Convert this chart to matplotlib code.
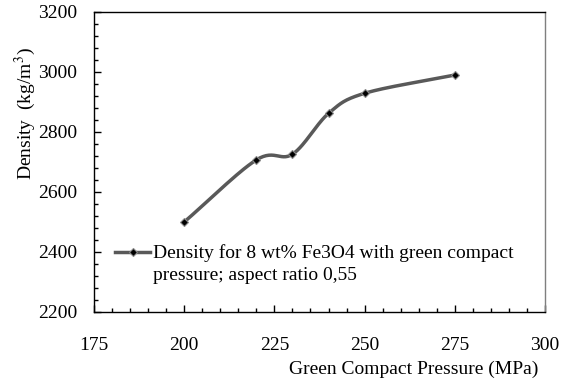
import numpy as np
import matplotlib
matplotlib.use("Agg")
import matplotlib.pyplot as plt
from matplotlib.lines import Line2D
from matplotlib.ticker import MultipleLocator

plt.rcParams["font.family"] = ["Liberation Serif", "DejaVu Serif"]
plt.rcParams["mathtext.fontset"] = "stix"

# Data
pressure = [200, 220, 230, 240, 250, 275]
density = [2500, 2707, 2726, 2862, 2929, 2990]
label_line1 = "Density for 8 wt% Fe3O4 with green compact"
label_line2 = "pressure; aspect ratio 0,55"

XMIN, XMAX = 175, 300
YMIN, YMAX = 2200, 3200


def smooth(xs, ys, n=30):
    # Catmull-Rom spline (Excel-like smoothed line), in normalised space
    px = (np.asarray(xs, float) - XMIN) / (XMAX - XMIN)
    py = (np.asarray(ys, float) - YMIN) / (YMAX - YMIN) * (300 / 451)
    P = np.column_stack([px, py])
    P = np.vstack([2 * P[0] - P[1], P, 2 * P[-1] - P[-2]])
    out = []
    t = np.linspace(0, 1, n)[:, None]
    for i in range(1, len(P) - 2):
        p0, p1, p2, p3 = P[i - 1], P[i], P[i + 1], P[i + 2]
        seg = 0.5 * ((2 * p1) + (-p0 + p2) * t
                     + (2 * p0 - 5 * p1 + 4 * p2 - p3) * t ** 2
                     + (-p0 + 3 * p1 - 3 * p2 + p3) * t ** 3)
        out.append(seg if i == len(P) - 3 else seg[:-1])
    out = np.vstack(out)
    sx = out[:, 0] * (XMAX - XMIN) + XMIN
    sy = out[:, 1] / (300 / 451) * (YMAX - YMIN) + YMIN
    return sx, sy


fig = plt.figure(figsize=(5.62, 3.80), dpi=100)
ax = fig.add_axes([94 / 562, 1 - 312 / 380, 451 / 562, 300 / 380])

sx, sy = smooth(pressure, density)
line_color = "#595959"
ax.plot(sx, sy, color=line_color, lw=2.5, solid_capstyle="round", zorder=2)
ax.plot(pressure, density, ls="none", marker="D", ms=4, mfc="black",
        mec="#8c8c8c", mew=0.8, zorder=3)

ax.set_xlim(XMIN, XMAX)
ax.set_ylim(YMIN, YMAX)
ax.xaxis.set_major_locator(MultipleLocator(25))
ax.xaxis.set_minor_locator(MultipleLocator(5))
ax.yaxis.set_major_locator(MultipleLocator(200))
ax.yaxis.set_minor_locator(MultipleLocator(40))
ax.tick_params(which="both", direction="in", top=False, right=False,
               labelsize=14, width=1)
ax.tick_params(which="major", length=5)
ax.tick_params(which="minor", length=3)
ax.tick_params(axis="x", pad=18)
ax.tick_params(axis="y", pad=12)
for s in ax.spines.values():
    s.set_linewidth(1)
ax.spines["right"].set_color("#7f7f7f")

ax.set_ylabel("Density  (kg/m$^{3}$)", fontsize=14)
ax.yaxis.set_label_coords(-0.125, 0.66)
ax.set_xlabel("Green Compact Pressure (MPa)", fontsize=14, ha="right",
              va="top")
ax.xaxis.set_label_coords((538 - 94) / 451, -0.163)

h1 = Line2D([], [], color=line_color, lw=2.5, marker="D", ms=4,
            mfc="black", mec="#8c8c8c", mew=0.8)
h2 = Line2D([], [], alpha=0)
ax.legend([h1, h2], [label_line1, label_line2], loc="upper left",
          bbox_to_anchor=(0.047, 0.225), frameon=False, fontsize=14,
          handlelength=1.8, handletextpad=0.15, borderpad=0,
          borderaxespad=0, labelspacing=0.2)

fig.savefig("out.png", dpi=100)
